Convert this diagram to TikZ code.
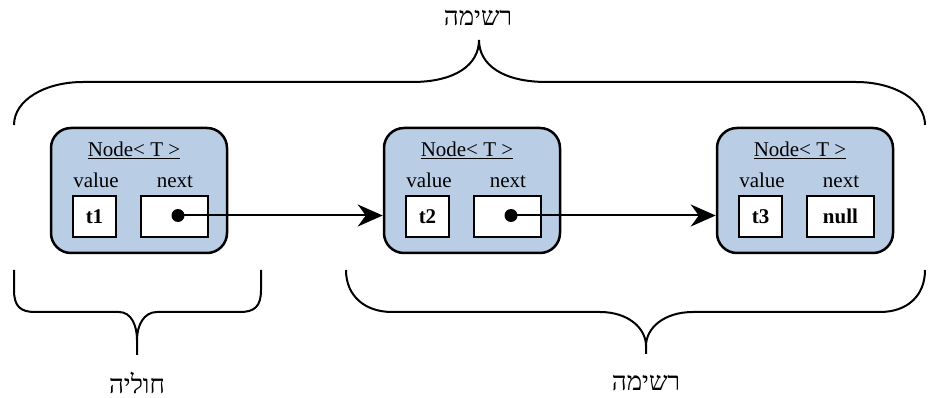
\documentclass[tikz,border=0pt]{standalone}
\usepackage{fontspec}
\setmainfont{Liberation Serif}
\newfontfamily\hebfont[Script=Hebrew]{Liberation Serif}
\TeXXeTstate=1
\usetikzlibrary{arrows.meta}
\definecolor{nodeblue}{HTML}{B9CDE5}
\begin{document}
\begin{tikzpicture}[x=1pt,y=-1pt,
  listnode/.style={draw, line width=2.5pt, rounded corners=20pt, fill=nodeblue,
    minimum width=176pt, minimum height=125pt, inner sep=0pt},
  cellbox/.style={draw, line width=2pt, fill=white, minimum height=41pt, inner sep=0pt,
    font=\fontsize{21}{25}\selectfont\bfseries},
  valbox/.style={cellbox, minimum width=43pt},
  nextbox/.style={cellbox, minimum width=67pt},
  lbl/.style={anchor=base, inner sep=0pt, font=\fontsize{21}{25}\selectfont},
  dotnode/.style={circle, fill=black, minimum size=13pt, inner sep=0pt},
  heb/.style={inner sep=0pt, font=\fontsize{26}{30}\hebfont},
  bracepath/.style={line width=2pt},
  conn/.style={line width=2pt, -{Stealth[length=25pt,width=22pt,inset=8pt]}}
]
\useasboundingbox (0,0) rectangle (938,398);

% list nodes
\node[listnode] (n1) at (139,190.5) {};
\node[listnode] (n2) at (472,190.5) {};
\node[listnode] (n3) at (805,190.5) {};

% titles
\node[lbl] (h1) at (134,157) {\underline{Node< T >}};
\node[lbl] (h2) at (467,157) {\underline{Node< T >}};
\node[lbl] (h3) at (800,157) {\underline{Node< T >}};

% field labels
\node[lbl] (vl1) at (96,188) {value};
\node[lbl] (nl1) at (175,188) {next};
\node[lbl] (vl2) at (429,188) {value};
\node[lbl] (nl2) at (508,188) {next};
\node[lbl] (vl3) at (762,188) {value};
\node[lbl] (nl3) at (841,188) {next};

% field boxes
\node[valbox] (v1) at (94.5,216.5) {t1};
\node[nextbox] (x1) at (174.5,216.5) {};
\node[valbox] (v2) at (427.5,216.5) {t2};
\node[nextbox] (x2) at (507.5,216.5) {};
\node[valbox] (v3) at (760.5,216.5) {t3};
\node[nextbox] (x3) at (840.5,216.5) {null};

% pointer dots
\node[dotnode] (d1) at (178,215.5) {};
\node[dotnode] (d2) at (511,215.5) {};

% connectors
\draw[conn] (d1.center) -- (n2.west |- d1.center);
\draw[conn] (d2.center) -- (n3.west |- d2.center);

% top brace
\draw[bracepath] (14,125) .. controls (14,100) and (45,82) .. (83,82) -- (412,82)
  .. controls (455,82) and (479,65) .. (479,40)
  .. controls (479,65) and (503,82) .. (547,82) -- (856,82)
  .. controls (894,82) and (925,100) .. (925,125);
\node[heb] (t1) at (478,18) {\beginR רשימה\endR};

% bottom left brace
\draw[bracepath] (14,270) -- (14,290) .. controls (14,306) and (20,312) .. (35,312) -- (119,312)
  .. controls (131,312) and (137,325) .. (137,340) -- (137,355);
\draw[bracepath] (137,340) .. controls (137,325) and (144,312) .. (157,312) -- (240,312)
  .. controls (255,312) and (261,306) .. (261,290) -- (261,270);
\node[heb] (t2) at (137,383) {\beginR חוליה\endR};

% bottom right brace
\draw[bracepath] (346,270) .. controls (346,296) and (365,312) .. (392,312) -- (600,312)
  .. controls (628,312) and (646,328) .. (646,346) -- (646,354);
\draw[bracepath] (646,346) .. controls (646,328) and (664,312) .. (693,312) -- (880,312)
  .. controls (907,312) and (925,296) .. (925,270);
\node[heb] (t3) at (646,383) {\beginR רשימה\endR};
\end{tikzpicture}
\end{document}
